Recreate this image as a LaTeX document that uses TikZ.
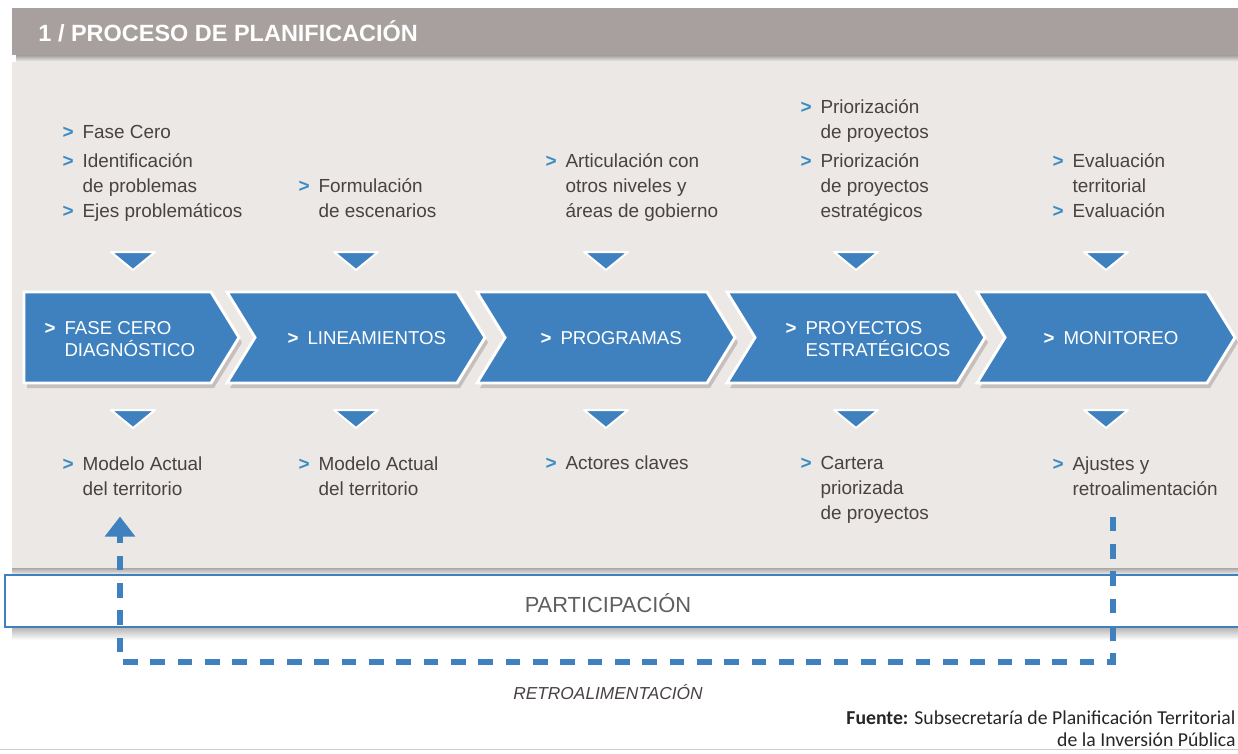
\documentclass[tikz,border=0pt]{standalone}
\usepackage{fontspec}
\setmainfont{Liberation Sans}
\newfontfamily\srcfont{Carlito}
\usetikzlibrary{arrows.meta}

\definecolor{hdrgray}{RGB}{168,160,159}
\definecolor{panelbg}{RGB}{236,232,229}
\definecolor{chevblue}{RGB}{62,129,190}
\definecolor{bulblue}{RGB}{58,140,196}
\definecolor{txtgray}{RGB}{72,66,66}
\definecolor{partgray}{RGB}{95,95,95}
\definecolor{shadowgray}{RGB}{150,145,143}

\newcommand{\bul}{\makebox[15pt][l]{\textcolor{bulblue}{\bfseries >}}}
\newcommand{\wbul}{\makebox[15pt][l]{\bfseries >}}
\newcommand{\nob}{\hspace*{15pt}}

\tikzset{every picture/.style={line width=0.75pt}}
\tikzset{
  steptext/.style={align=left, inner sep=0pt, text=txtgray,
    font=\fontsize{14.2}{18.75}\selectfont,
    execute at begin node=\strut, execute at end node=\strut},
  chevtext/.style={align=left, inner sep=0pt, text=white,
    font=\fontsize{14}{16.5}\selectfont},
  chevbox/.style={fill=chevblue, draw=white, line width=2.2pt, line join=miter},
  chevshade/.style={fill=shadowgray, opacity=0.45},
  downtri/.style={fill=chevblue, draw=white, line width=1.5pt, line join=round},
  fbloop/.style={draw=chevblue, line width=5pt, dash pattern=on 11pt off 9.5pt,
    -{Triangle[width=22pt,length=15pt]}},
}

\begin{document}
\begin{tikzpicture}[x=0.75pt,y=0.75pt,yscale=-1,xscale=1]
%set diagram size 1238 x 753
\useasboundingbox[fill=white] (0,0) rectangle (1238,753);

%Shape: Header bar
\shade[top color=shadowgray, bottom color=white] (16,54) rectangle (1238,63);
\fill[hdrgray] (12,8) rectangle (1238,55);
%Shape: Panel
\shade[top color=shadowgray, bottom color=white] (12,566) rectangle (1238,576);
\fill[panelbg] (12,62) rectangle (1238,568);

% Text Node
\node[anchor=west, inner sep=0pt, text=white, font=\bfseries\fontsize{17.6}{20}\selectfont] (title) at (38,31) {1 / PROCESO DE PLANIFICACIÓN};

%Shape: Chevrons
\fill[chevshade] (27,297) -- (214,297) -- (242,342.5) -- (214,388) -- (27,388) -- cycle;
\draw[chevbox] (24,292) -- (211,292) -- (239,337.5) -- (211,383) -- (24,383) -- cycle;
\foreach \L/\T in {227/485,477/735,727/985,977/1235}{
  \fill[chevshade] (\L+3,297) -- (\T-25,297) -- (\T+3,342.5) -- (\T-25,388) -- (\L+3,388) -- (\L+31,342.5) -- cycle;
  \draw[chevbox] (\L,292) -- (\T-28,292) -- (\T,337.5) -- (\T-28,383) -- (\L,383) -- (\L+28,337.5) -- cycle;
}

%Shape: Triangles
\foreach \cx in {133,356,606,856,1106}{
  \draw[downtri] (\cx-22,252) -- (\cx+22,252) -- (\cx,270) -- cycle;
  \draw[downtri] (\cx-22,410) -- (\cx+22,410) -- (\cx,428) -- cycle;
}

% Text Node
\node[chevtext, anchor=west] (fase) at (44,339) {\wbul FASE CERO\\\nob DIAGNÓSTICO};
% Text Node
\node[chevtext, anchor=west] (lin) at (287,338) {\wbul LINEAMIENTOS};
% Text Node
\node[chevtext, anchor=west] (prog) at (540,338) {\wbul PROGRAMAS};
% Text Node
\node[chevtext, anchor=west] (proy) at (785,339) {\wbul PROYECTOS\\\nob ESTRATÉGICOS};
% Text Node
\node[chevtext, anchor=west] (mon) at (1043,338) {\wbul MONITOREO};

% Text Node
\node[steptext, anchor=south west] (up1) at (62,225.5) {\bul Fase Cero\\[3pt]\bul Identificación\\\nob de problemas\\\bul Ejes problemáticos};
% Text Node
\node[steptext, anchor=south west] (up2) at (298,225.5) {\bul Formulación\\\nob de escenarios};
% Text Node
\node[steptext, anchor=south west] (up3) at (545,225.5) {\bul Articulación con\\\nob otros niveles y\\\nob áreas de gobierno};
% Text Node
\node[steptext, anchor=south west] (up4) at (800,225.5) {\bul Priorización\\\nob de proyectos\\[3pt]\bul Priorización\\\nob de proyectos\\\nob estratégicos};
% Text Node
\node[steptext, anchor=south west] (up5) at (1052,225.5) {\bul Evaluación\\\nob territorial\\\bul Evaluación};

% Text Node
\node[steptext, anchor=north west] (dn1) at (62,456) {\bul Modelo Actual\\\nob del territorio};
% Text Node
\node[steptext, anchor=north west] (dn2) at (298,456) {\bul Modelo Actual\\\nob del territorio};
% Text Node
\node[steptext, anchor=north west] (dn3) at (545,451) {\bul Actores claves};
% Text Node
\node[steptext, anchor=north west] (dn4) at (800,456) {\bul Cartera\\\nob priorizada\\\nob de proyectos};
% Text Node
\node[steptext, anchor=north west] (dn5) at (1052,456) {\bul Ajustes y\\\nob retroalimentación};

%Shape: Participacion box
\shade[top color=shadowgray!70, bottom color=white] (12,627) rectangle (1238,640);
\draw[chevblue, line width=2pt, fill=white] (5,575) rectangle (1242,627);
% Text Node
\node[text=partgray, inner sep=0pt, font=\fontsize{16.4}{18}\selectfont] (partlbl) at (608,603) {PARTICIPACIÓN};

%Feedback loop
\coordinate (fbR) at (1113,662);
\coordinate (fbL) at (120,662);
\draw[fbloop, shorten <=10pt, shorten >=10pt] (dn5.south -| fbR) -- (fbR) -- (fbL) -- (dn1.south -| fbL);

% Text Node
\node[text=txtgray, inner sep=0pt, font=\itshape\fontsize{13}{15}\selectfont] (retro) at (608,692) {RETROALIMENTACIÓN};
% Text Node
\node[anchor=north east, align=right, inner sep=0pt, text=black!85, font=\srcfont\fontsize{14.8}{16.5}\selectfont] (fuente) at (1236,710) {\textbf{Fuente:} Subsecretaría de Planificación Territorial\\de la Inversión Pública};

%Straight Lines
\draw[black!20] (0,749.5) -- (1238,749.5);
\end{tikzpicture}
\end{document}
